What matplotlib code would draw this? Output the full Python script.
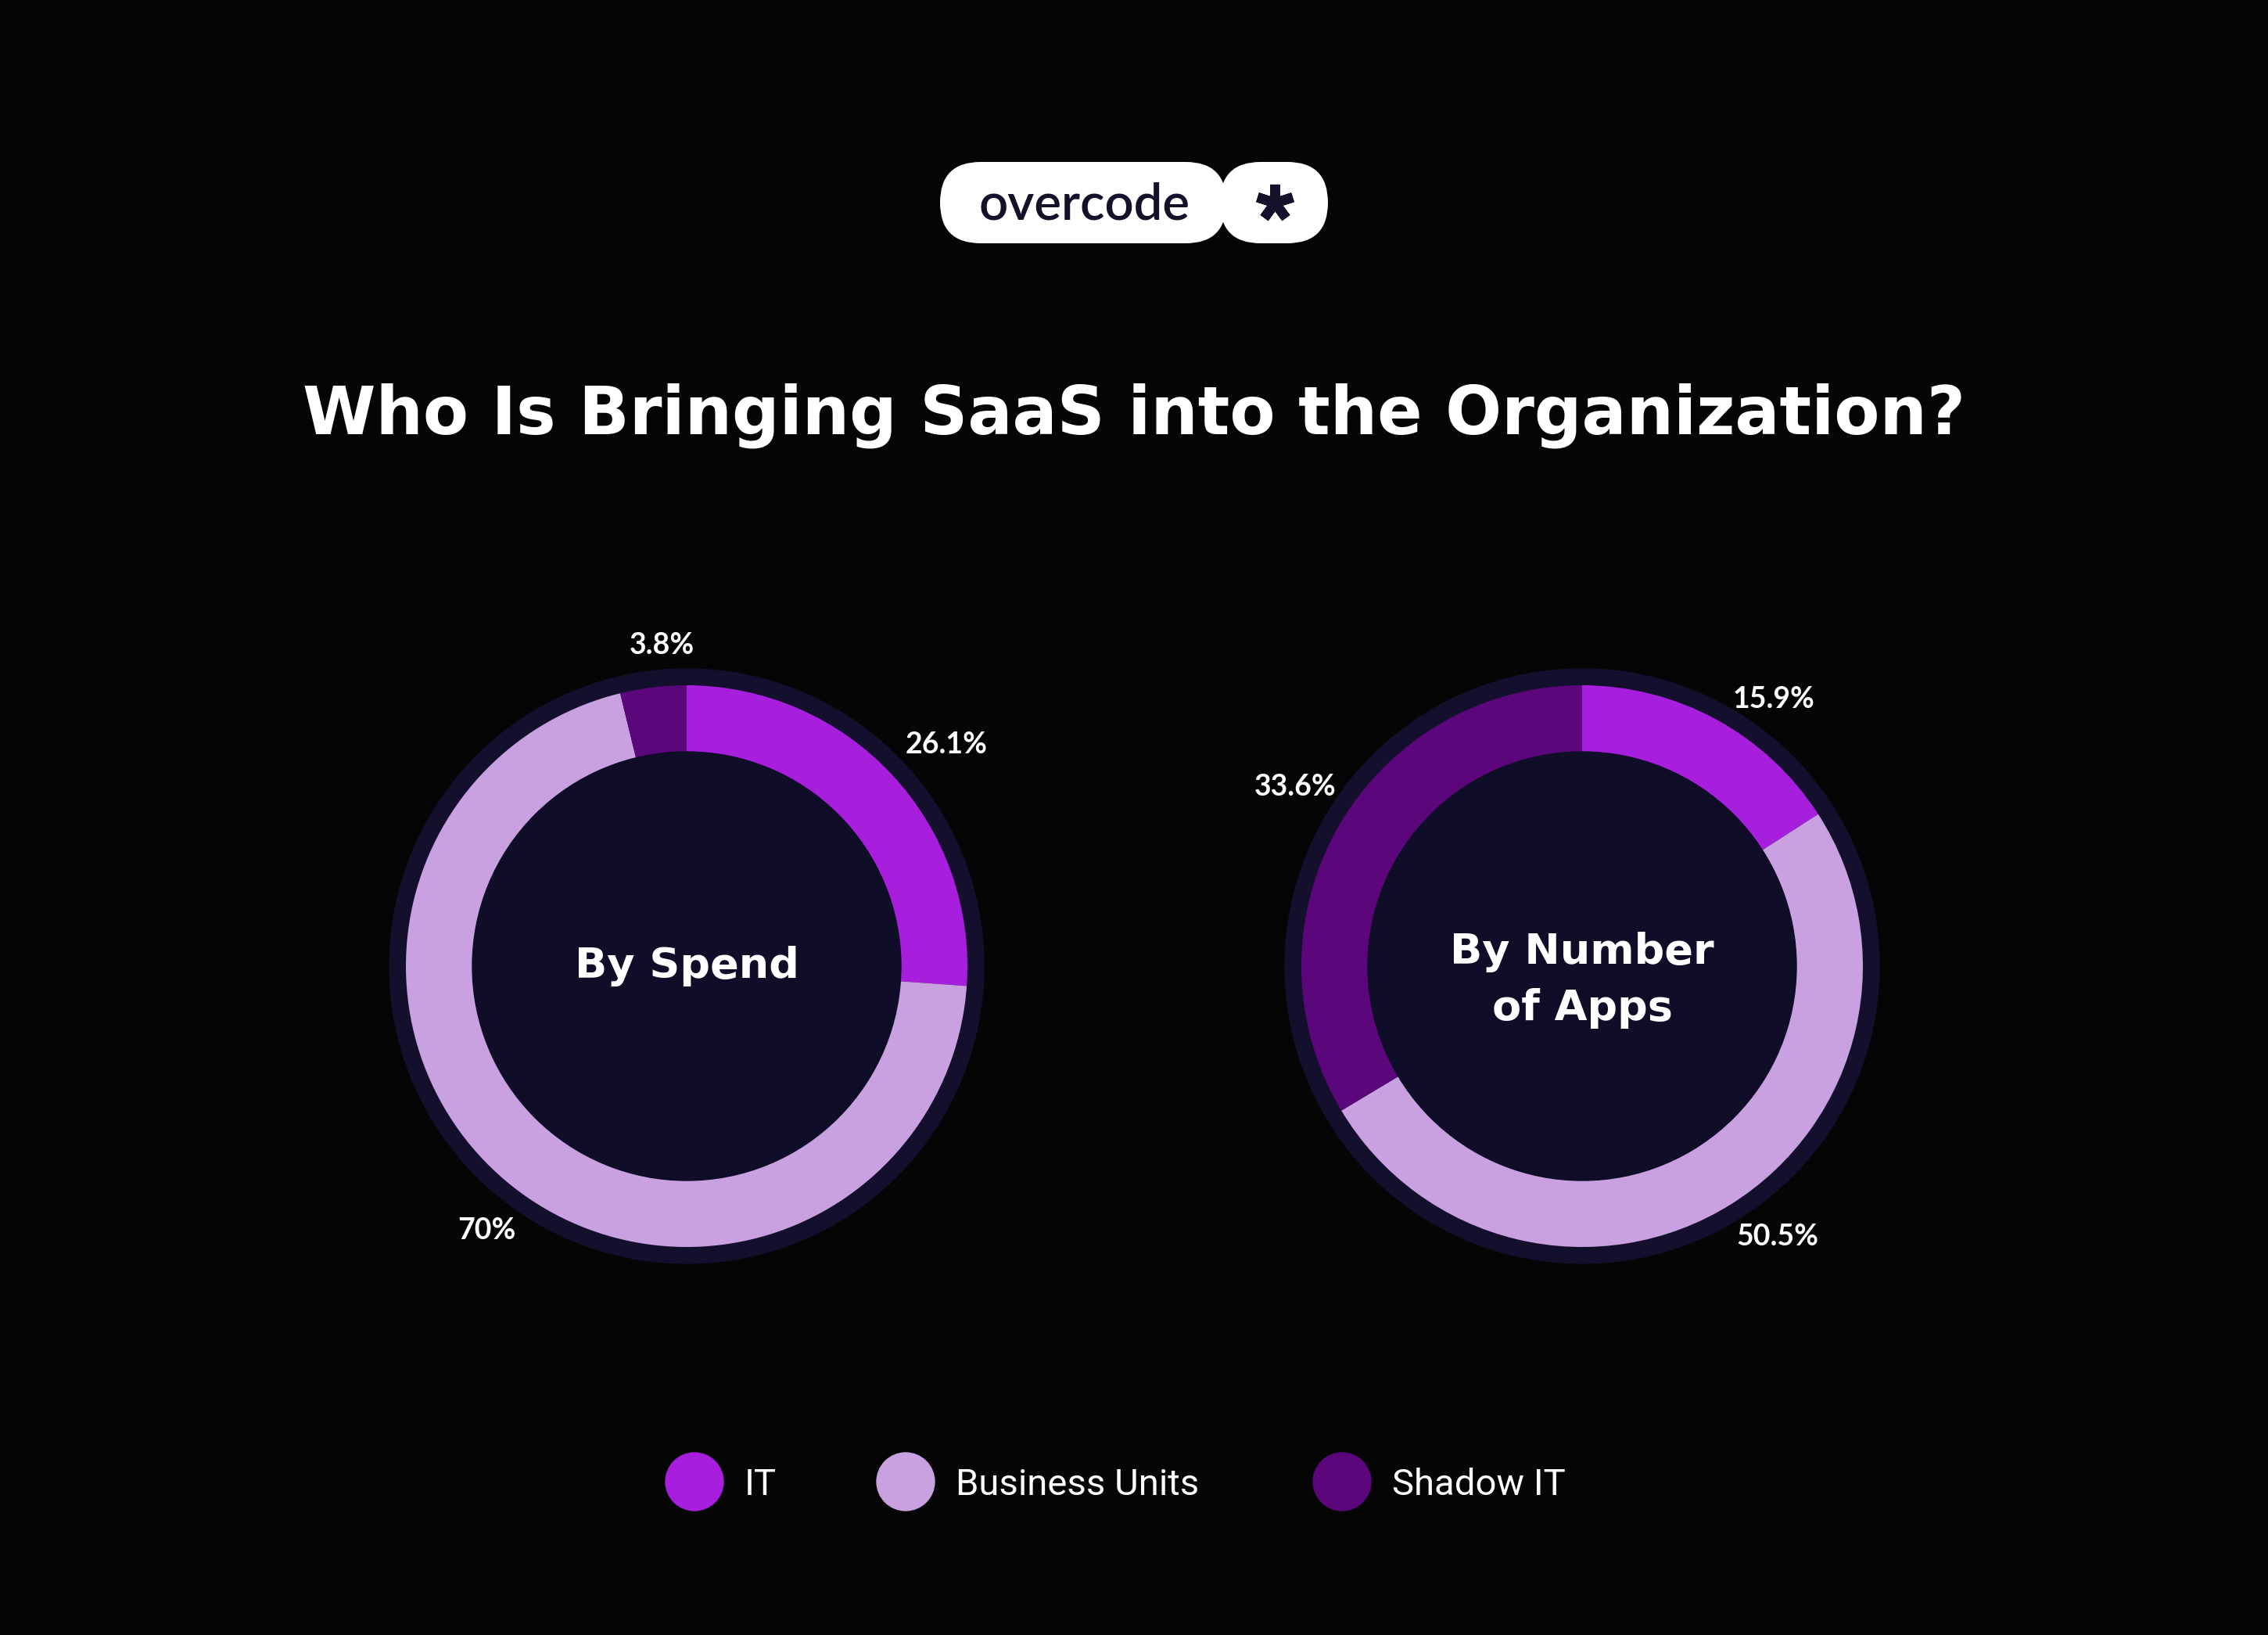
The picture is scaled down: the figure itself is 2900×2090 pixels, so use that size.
import numpy as np
import matplotlib.pyplot as plt
from matplotlib.patches import Circle, FancyBboxPatch

# data
categories = ["IT", "Business Units", "Shadow IT"]
spend = [26.1, 70, 3.8]
apps = [15.9, 50.5, 33.6]
spend_labels = ["26.1%", "70%", "3.8%"]
apps_labels = ["15.9%", "50.5%", "33.6%"]
centre_titles = ["By Spend", "By Number\nof Apps"]
title = "Who Is Bringing SaaS into the Organization?"

# styling
W, H = 2900, 2090
BG = "#050505"
NAVY = "#0F0D27"
RING = "#140F2D"
colors = ["#A71FDD", "#C9A0E0", "#5B067B"]
R_OUT = 359.0   # coloured ring outer radius in px
PAD = 1.3
# label nudges: (clockwise degrees, distance in ring radii)
spend_nudge = [(2.6, 1.215), (-3.0, 1.18), (2.4, 1.145)]
apps_nudge = [(7.0, 1.17), (-4.0, 1.19), (2.5, 1.205)]


def donut(cx, cy, values, labels, centre, nudge):
    size = 2 * PAD * R_OUT
    ax = fig.add_axes([(cx - size / 2) / W, (H - cy - size / 2) / H, size / W, size / H])
    ax.add_patch(Circle((0, 0), 380 / R_OUT, color=RING, zorder=0))
    wedges, texts = ax.pie(values, labels=labels, colors=colors, startangle=90,
                           counterclock=False, radius=1, labeldistance=1.19,
                           wedgeprops=dict(width=1 - 274 / R_OUT, linewidth=0),
                           textprops=dict(color="white", fontsize=27,
                                          family="Lato", weight="bold"))
    for w, t, (da, r) in zip(wedges, texts, nudge):
        mid = np.deg2rad((w.theta1 + w.theta2) / 2 - da)
        t.set_position((r * np.cos(mid), r * np.sin(mid)))
        t.set_ha("center")
        t.set_va("center")
    ax.add_patch(Circle((0, 0), 274 / R_OUT, color=NAVY, zorder=3))
    y = -0.05 if "\n" in centre else 0
    ax.text(0, y, centre, color="white", fontsize=39, weight="bold",
            ha="center", va="center", linespacing=1.47, zorder=4)
    # pie() resets the limits, so set them afterwards
    ax.set_xlim(-PAD, PAD)
    ax.set_ylim(-PAD, PAD)
    ax.set_aspect("equal")
    ax.axis("off")


fig = plt.figure(figsize=(W / 100, H / 100), dpi=100, facecolor=BG)
bg = fig.add_axes([0, 0, 1, 1])
bg.set_xlim(0, W)
bg.set_ylim(H, 0)
bg.set_facecolor(BG)
bg.axis("off")

# logo
bg.add_patch(FancyBboxPatch((1202, 207), 366, 104, boxstyle="round,pad=0,rounding_size=52",
                            fc="white", ec="none"))
bg.add_patch(FancyBboxPatch((1560, 207), 138, 104, boxstyle="round,pad=0,rounding_size=52",
                            fc="white", ec="none"))
bg.text(1387, 262, "overcode", color="#14122B", fontsize=47, family="Lato",
        weight="semibold", ha="center", va="center")
bg.plot([1630], [259], marker=(5, 2, 0), markersize=34, markeredgewidth=9,
        color="#14122B")

# title
bg.text(1450, 531, title, color="white", fontsize=61, weight="bold",
        ha="center", va="center")

donut(878, 1235, spend, spend_labels, centre_titles[0], spend_nudge)
donut(2023, 1235, apps, apps_labels, centre_titles[1], apps_nudge)

# legend
legend_dots = [888, 1158, 1716]
for x, name, c in zip(legend_dots, categories, colors):
    bg.add_patch(Circle((x, 1894), 37, color=c))
    bg.text(x + 64, 1898, name, color="white", fontsize=34, family="Roboto",
            ha="left", va="center")

fig.savefig("out.png", dpi=100, facecolor=BG)
